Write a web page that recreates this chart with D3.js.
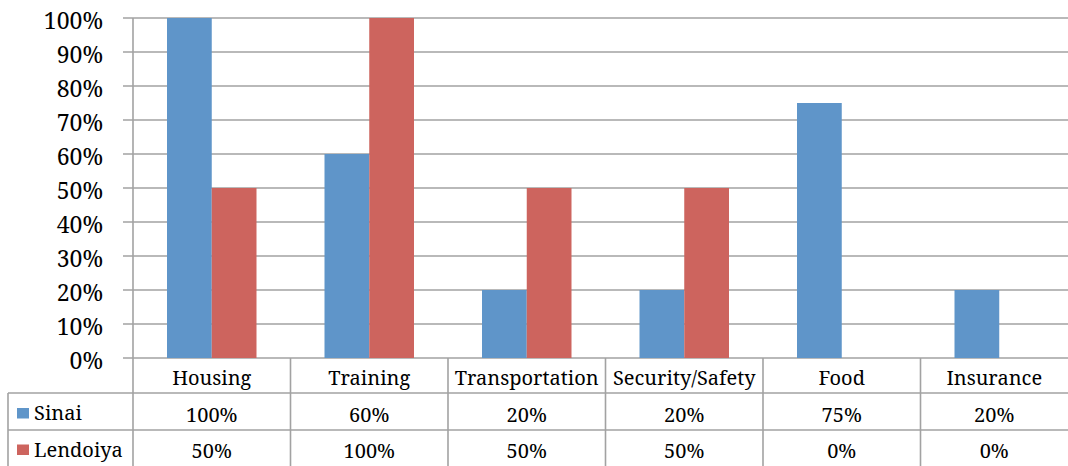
<!DOCTYPE html>
<html>
<head>
<meta charset="utf-8">
<script src="https://cdn.jsdelivr.net/npm/d3@7"></script>
<style>
  html, body { margin: 0; padding: 0; background: #fff; }
</style>
</head>
<body>
<svg id="chart" width="1068" height="466"></svg>
<script>
// Categories and series values (percent)
const categories = ["Housing", "Training", "Transportation", "Security/Safety", "Food", "Insurance"];
const seriesNames = ["Sinai", "Lendoiya"];
const sinai = [100, 60, 20, 20, 75, 20];
const lendoiya = [50, 100, 50, 50, 0, 0];
const yTicks = [0, 10, 20, 30, 40, 50, 60, 70, 80, 90, 100];
const colors = ["#5f95c9", "#cd645e"];

const seriesValues = [sinai, lendoiya];
const fontFor = () => "'Noto Serif', monospace";

(function draw() {
  const svg = d3.select("#chart");
  const plotLeft = 133, plotRight = 1078, plotTop = 18, plotBottom = 358;
  const rowLines = [358, 393, 430];
  const tableBottom = 470;
  const tableLeft = 8;
  const gridColor = "#a2a2a2";

  const x = d3.scaleBand().domain(categories).range([plotLeft, plotRight]).padding(0);
  const inner = d3.scaleBand().domain(seriesNames)
    .range([34, x.bandwidth() - 34]).padding(0);
  const y = d3.scaleLinear().domain([0, 100]).range([plotBottom, plotTop]);

  // Horizontal gridlines with short ticks on the left
  svg.append("g").selectAll("line").data(yTicks).join("line")
    .attr("x1", plotLeft - 10).attr("x2", 1068)
    .attr("y1", d => y(d)).attr("y2", d => y(d))
    .attr("stroke", gridColor).attr("stroke-width", 1.6);

  // Y tick labels
  svg.selectAll("text.ytick").data(yTicks).join("text")
    .attr("class", "ytick")
    .attr("x", 103).attr("y", d => y(d) + 11)
    .attr("text-anchor", "end")
    .attr("font-size", 23)
    .style("font-family", fontFor)
    .text(d => d + "%");

  // Bars
  const groups = svg.append("g").selectAll("g").data(categories).join("g")
    .attr("transform", d => `translate(${x(d)},0)`);
  groups.selectAll("rect")
    .data((c, i) => seriesNames.map((s, k) => ({ s, k, v: seriesValues[k][i] })))
    .join("rect")
    .attr("x", d => inner(d.s))
    .attr("width", inner.bandwidth())
    .attr("y", d => y(d.v))
    .attr("height", d => plotBottom - y(d.v))
    .attr("fill", d => colors[d.k]);

  // Data table lines
  const table = svg.append("g").attr("stroke", gridColor).attr("stroke-width", 1.6);
  table.append("line").attr("x1", plotLeft).attr("x2", plotLeft)
    .attr("y1", plotTop).attr("y2", tableBottom);
  table.selectAll("line.div").data(categories.slice(1)).join("line")
    .attr("class", "div")
    .attr("x1", d => x(d)).attr("x2", d => x(d))
    .attr("y1", plotBottom).attr("y2", tableBottom);
  table.selectAll("line.row").data(rowLines.slice(1)).join("line")
    .attr("class", "row")
    .attr("x1", tableLeft).attr("x2", 1068)
    .attr("y1", d => d).attr("y2", d => d);
  table.append("line").attr("x1", tableLeft).attr("x2", tableLeft)
    .attr("y1", rowLines[1]).attr("y2", tableBottom);

  // Category labels (header row)
  svg.selectAll("text.cat").data(categories).join("text")
    .attr("class", "cat")
    .attr("x", d => x(d) + x.bandwidth() / 2 - (d === "Insurance" ? 5 : 0))
    .attr("y", 385)
    .attr("text-anchor", "middle")
    .attr("font-size", 20)
    .style("font-family", fontFor)
    .text(d => d);

  // Value rows with legend keys
  const rowBaselines = [421.5, 458];
  seriesNames.forEach((s, k) => {
    svg.selectAll("text.val" + k).data(categories).join("text")
      .attr("class", "val" + k)
      .attr("x", d => x(d) + x.bandwidth() / 2 - (d === "Insurance" ? 5 : 0))
      .attr("y", rowBaselines[k])
      .attr("text-anchor", "middle")
      .attr("font-size", 20)
      .style("font-family", fontFor)
      .text((d, i) => seriesValues[k][i] + "%");
    svg.append("rect")
      .attr("x", 17).attr("y", rowBaselines[k] - 13.5)
      .attr("width", 12).attr("height", 10.5)
      .attr("fill", colors[k]);
    svg.append("text")
      .attr("x", 34).attr("y", rowBaselines[k] - 1.5)
      .attr("font-size", 20)
      .style("font-family", fontFor)
      .text(s);
  });
})();
</script>
</body>
</html>
